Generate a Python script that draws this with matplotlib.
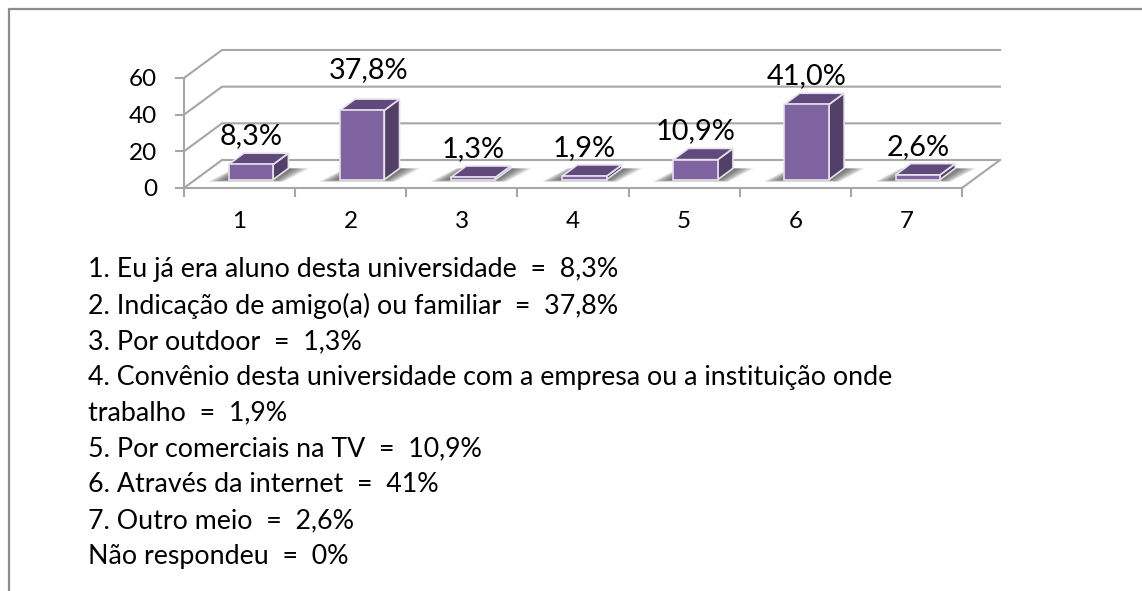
import matplotlib
matplotlib.use("Agg")
import matplotlib.pyplot as plt
from matplotlib.patches import Polygon

categories = ["1", "2", "3", "4", "5", "6", "7"]
values = [8.3, 37.8, 1.3, 1.9, 10.9, 41.0, 2.6]
value_labels = ["8,3%", "37,8%", "1,3%", "1,9%", "10,9%", "41,0%", "2,6%"]
y_ticks = [0, 20, 40, 60]
legend_lines = [
    "1. Eu já era aluno desta universidade  =  8,3%",
    "2. Indicação de amigo(a) ou familiar  =  37,8%",
    "3. Por outdoor  =  1,3%",
    "4. Convênio desta universidade com a empresa ou a instituição onde",
    "trabalho  =  1,9%",
    "5. Por comerciais na TV  =  10,9%",
    "6. Através da internet  =  41%",
    "7. Outro meio  =  2,6%",
    "Não respondeu  =  0%",
]

W, H = 1142, 591
plt.rcParams["font.family"] = ["Lato", "DejaVu Sans"]

fig = plt.figure(figsize=(W / 100, H / 100), dpi=100, facecolor="white")
ax = fig.add_axes([184 / W, 1 - 188 / H, (962 - 184) / W, 110 / H])
ax.set_xlim(0, 7)
ax.set_ylim(0, 60)
ax.axis("off")

# depth of the fake 3d box, in data units
dx = 38 / (778 / 7)
dy = 28 / (110 / 60)
grid = "#a6a6a6"
front = "#8064a2"
top = "#604a7b"
side = "#534069"
edge = "#e6e1ec"


def pts(*p):
    return [(x, y) for x, y in p]


# walls and floor
ax.plot([0, 0], [0, 60], color=grid, lw=1.5, clip_on=False)
for t in y_ticks:
    ax.plot([0, dx, 7 + dx], [t, t + dy, t + dy], color=grid, lw=1.5, clip_on=False)
    ax.plot([-0.07, 0], [t, t], color=grid, lw=1.5, clip_on=False)
    ax.text(-0.24, t - 1, str(t), ha="right", va="center", fontsize=17.5, color="black")
ax.plot([0, 7, 7 + dx], [0, 0, dy], color=grid, lw=1.5, clip_on=False)

for i in range(len(categories) + 1):
    ax.plot([i, i], [0, -4.4], color=grid, lw=1.5, clip_on=False)

bw = 0.4
bd_x = dx * 0.4
bd_y = dy * 0.4
for i, (cat, v, lab) in enumerate(zip(categories, values, value_labels)):
    x0 = i + 0.3 + dx * 0.3
    x1 = x0 + bw
    y0 = dy * 0.3
    # soft shadow on the floor
    for k in range(14):
        f = 1 - k / 14
        s = 0.19 * f
        b = 1.2 * f
        ax.add_patch(Polygon(pts((x0 - s, y0 - b), (x1 + s * 0.5, y0 - b),
                                 (x1 + bd_x + s, y0 + bd_y), (x0 + bd_x - s * 0.5, y0 + bd_y)),
                             fc="#303030", ec="none", alpha=0.075, zorder=2, clip_on=False))
    ax.add_patch(Polygon(pts((x1, y0), (x1 + bd_x, y0 + bd_y), (x1 + bd_x, y0 + bd_y + v), (x1, y0 + v)),
                         fc=side, ec=edge, lw=1.2, zorder=3, clip_on=False))
    ax.add_patch(Polygon(pts((x0, y0 + v), (x1, y0 + v), (x1 + bd_x, y0 + bd_y + v), (x0 + bd_x, y0 + bd_y + v)),
                         fc=top, ec=edge, lw=1.2, zorder=3, clip_on=False))
    ax.add_patch(Polygon(pts((x0, y0), (x1, y0), (x1, y0 + v), (x0, y0 + v)),
                         fc=front, ec=edge, lw=1.2, zorder=4, clip_on=False))
    ax.text(i + 0.5, -18.5, cat, ha="center", va="center", fontsize=17.5, color="black")
    # the label of bar 2 sits a little higher and to the right
    shift_x = 0.054 if i == 1 else 0
    shift_y = 6.5 if i == 1 else 0
    ax.text(x0 + bw / 2 + shift_x, y0 + v + bd_y + 9.3 + shift_y, lab, ha="center", va="center",
            fontsize=20.8, color="black", zorder=5, clip_on=False)

# text block under the chart
for n, line in enumerate(legend_lines):
    fig.text(88 / W, 1 - (270 + n * 35.8) / H, line, ha="left", va="center", fontsize=19.3, color="black")

# outer frame, only top and left are visible
fig.add_artist(plt.Line2D([8.5 / W, 8.5 / W, 1], [0, 1 - 8.5 / H, 1 - 8.5 / H],
                          color="#8c8c8c", lw=1.6))

fig.savefig("out.png", dpi=100)
